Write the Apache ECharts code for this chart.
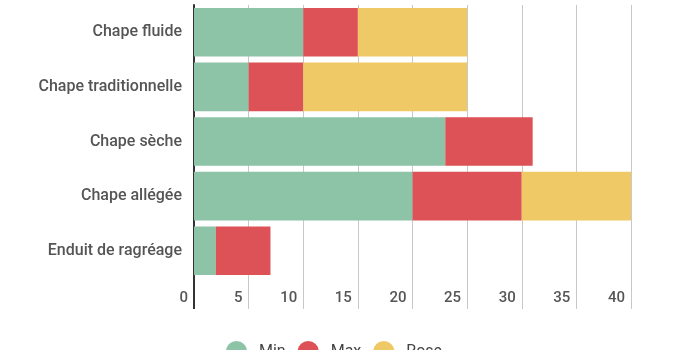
<!DOCTYPE html>
<html>
<head>
<meta charset="utf-8">
<script src="https://cdn.jsdelivr.net/npm/echarts@6/dist/echarts.min.js"></script>
<style>
html,body{margin:0;padding:0;background:#fff;}
#c{width:680px;height:350px;}
</style>
</head>
<body>
<div id="c"></div>
<script>
const categories = ["Chape fluide", "Chape traditionnelle", "Chape sèche", "Chape allégée", "Enduit de ragréage"];
const seriesNames = ["Min", "Max", "Rose"];
const minValues = [10, 5, 23, 20, 2];
const maxValues = [5, 5, 8, 10, 5];
const roseValues = [10, 15, 0, 10, 0];
const xTicks = { min: 0, max: 40, interval: 5 };
const colors = ["#8dc3a7", "#dc5256", "#efc966"];

const chart = echarts.init(document.getElementById('c'), null, { renderer: 'canvas' });
const valueSets = [minValues, maxValues, roseValues];
const option = {
  animation: false,
  textStyle: { fontFamily: 'Roboto' },
  grid: { left: 194, right: 49, top: 5, bottom: 72, containLabel: false },
  legend: {
    top: 336,
    left: 221,
    icon: 'circle',
    itemWidth: 21,
    itemHeight: 21,
    itemGap: 12,
    textStyle: { fontFamily: 'Roboto', fontSize: 16, color: '#444', padding: [0, 0, 0, 7] },
    data: seriesNames
  },
  xAxis: {
    type: 'value',
    min: xTicks.min, max: xTicks.max, interval: xTicks.interval,
    axisLine: { show: false },
    axisTick: { show: true, length: 31, lineStyle: { color: '#c8c8c8', width: 1 } },
    splitLine: { show: true, lineStyle: { color: '#c8c8c8', width: 1 } },
    axisLabel: {
      align: 'right', margin: 13, padding: [0, 6, 0, 0],
      fontFamily: 'Roboto', fontSize: 15, fontWeight: 500, color: '#555'
    }
  },
  yAxis: {
    type: 'category',
    inverse: true,
    data: categories,
    axisLine: { show: true, lineStyle: { color: '#333', width: 2 } },
    axisTick: { show: false },
    axisLabel: { margin: 12, padding: [3, 0, 0, 0], fontFamily: 'Roboto', fontSize: 16, fontWeight: 500, color: '#555' }
  },
  series: seriesNames.map((n, i) => ({
    name: n,
    type: 'bar',
    stack: 'total',
    barCategoryGap: '11%',
    itemStyle: { color: colors[i] },
    data: valueSets[i]
  }))
};
chart.setOption(option);
// extend the dark category axis line down through the tick-label band, using the library's scale
const p0 = chart.convertToPixel({ gridIndex: 0 }, [xTicks.min, categories[categories.length - 1]]);
const gridRect = chart.getModel().getComponent('grid', 0).coordinateSystem.getRect();
chart.setOption({
  graphic: [{
    type: 'line',
    shape: { x1: p0[0], y1: gridRect.y + gridRect.height, x2: p0[0], y2: gridRect.y + gridRect.height + 31 },
    style: { stroke: '#333', lineWidth: 2 },
    z: 10
  }]
});
</script>
</body>
</html>
